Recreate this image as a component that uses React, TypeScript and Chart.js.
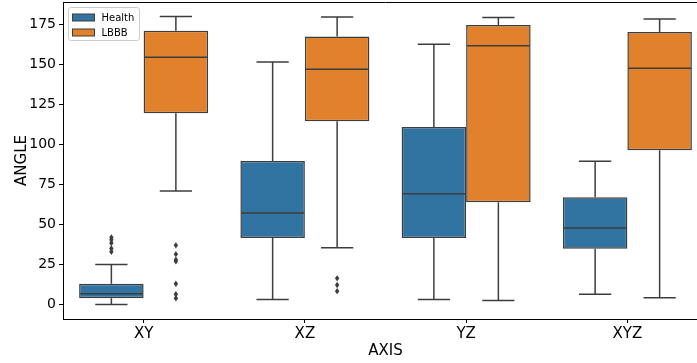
import React, { useEffect, useRef } from "react";
import { Chart, registerables } from "chart.js";

Chart.register(...registerables);

const categories = ["XY", "XZ", "YZ", "XYZ"];
const seriesNames = ["Health", "LBBB"];
const seriesColors = ["#3274a1", "#e1812c"];

const healthMin = [0, 3.2, 3.2, 6.4];
const healthQ1 = [4, 41.6, 41.6, 34.9];
const healthMedian = [6.75, 57.2, 69.25, 47.8];
const healthQ3 = [13, 89.7, 110.9, 67];
const healthMax = [25, 151.6, 162.6, 89.5];
const healthOutliers = [[42, 40.5, 38.5, 35, 33], [], [], []];

const lbbbMin = [71, 35.5, 2.6, 4.25];
const lbbbQ1 = [119.5, 114.5, 63.9, 96.4];
const lbbbMedian = [154.5, 147, 161.6, 147.6];
const lbbbQ3 = [171, 167.4, 174.7, 170.3];
const lbbbMax = [180, 179.7, 179.25, 178.4];
const lbbbOutliers = [[37, 31.5, 28, 27, 13, 6.5, 4], [16.4, 12.2, 8.4], [], []];

const yTickValues = [0, 25, 50, 75, 100, 125, 150, 175];
const yMin = -9;
const yMax = 189;

const LINE = "#3d3d3d";
const FONT = "'DejaVu Sans', sans-serif";

const stats = [
  { min: healthMin, q1: healthQ1, med: healthMedian, q3: healthQ3, max: healthMax, out: healthOutliers },
  { min: lbbbMin, q1: lbbbQ1, med: lbbbMedian, q3: lbbbQ3, max: lbbbMax, out: lbbbOutliers },
];

const boxPlugin = {
  id: "boxExtras",
  afterDatasetsDraw(chart: any) {
    const ctx = chart.ctx;
    const y = chart.scales.y;
    ctx.save();
    ctx.strokeStyle = LINE;
    ctx.fillStyle = LINE;
    ctx.lineWidth = 1.5;
    stats.forEach((s, di) => {
      const meta = chart.getDatasetMeta(di);
      meta.data.forEach((bar: any, i: number) => {
        const x = bar.x;
        const w = bar.width;
        const left = x - w / 2 + 0.75;
        const right = x + w / 2 - 0.75;
        const line = (x1: number, y1: number, x2: number, y2: number) => {
          ctx.beginPath();
          ctx.moveTo(x1, y1);
          ctx.lineTo(x2, y2);
          ctx.stroke();
        };
        const ym = y.getPixelForValue(s.med[i]);
        line(left, ym, right, ym);
        const yq1 = y.getPixelForValue(s.q1[i]);
        const yq3 = y.getPixelForValue(s.q3[i]);
        const ylo = y.getPixelForValue(s.min[i]);
        const yhi = y.getPixelForValue(s.max[i]);
        line(x, yq1, x, ylo);
        line(x, yq3, x, yhi);
        line(x - w / 4, ylo, x + w / 4, ylo);
        line(x - w / 4, yhi, x + w / 4, yhi);
        s.out[i].forEach((v: number) => {
          const py = y.getPixelForValue(v);
          ctx.beginPath();
          ctx.moveTo(x, py - 3.2);
          ctx.lineTo(x + 2.2, py);
          ctx.lineTo(x, py + 3.2);
          ctx.lineTo(x - 2.2, py);
          ctx.closePath();
          ctx.fill();
        });
      });
    });
    ctx.restore();
  },
  afterDraw(chart: any) {
    const ctx = chart.ctx;
    const a = chart.chartArea;
    ctx.save();
    ctx.strokeStyle = "#000";
    ctx.lineWidth = 1;
    ctx.beginPath();
    ctx.moveTo(a.left, a.top + 0.5);
    ctx.lineTo(a.right, a.top + 0.5);
    ctx.moveTo(a.right - 0.5, a.top);
    ctx.lineTo(a.right - 0.5, a.bottom);
    ctx.stroke();
    const lx = a.left + 5.5;
    const ly = a.top + 5.5;
    const lw = 71;
    const lh = 33;
    const r = 2.5;
    ctx.beginPath();
    ctx.moveTo(lx + r, ly);
    ctx.lineTo(lx + lw - r, ly);
    ctx.quadraticCurveTo(lx + lw, ly, lx + lw, ly + r);
    ctx.lineTo(lx + lw, ly + lh - r);
    ctx.quadraticCurveTo(lx + lw, ly + lh, lx + lw - r, ly + lh);
    ctx.lineTo(lx + r, ly + lh);
    ctx.quadraticCurveTo(lx, ly + lh, lx, ly + lh - r);
    ctx.lineTo(lx, ly + r);
    ctx.quadraticCurveTo(lx, ly, lx + r, ly);
    ctx.closePath();
    ctx.fillStyle = "rgba(255,255,255,0.8)";
    ctx.fill();
    ctx.strokeStyle = "#cccccc";
    ctx.stroke();
    seriesNames.forEach((name, k) => {
      const py = ly + 6.5 + k * 15;
      ctx.fillStyle = seriesColors[k];
      ctx.fillRect(lx + 4, py, 22, 7);
      ctx.strokeStyle = LINE;
      ctx.lineWidth = 1;
      ctx.strokeRect(lx + 4, py, 22, 7);
      ctx.fillStyle = "#000";
      ctx.font = `10px ${FONT}`;
      ctx.textBaseline = "middle";
      ctx.textAlign = "left";
      ctx.fillText(name, lx + 33, py + 4);
    });
    ctx.restore();
  },
};

export default function App() {
  const ref = useRef<HTMLCanvasElement | null>(null);
  useEffect(() => {
    if (!ref.current) return;
    const chart = new Chart(ref.current, {
      type: "bar",
      data: {
        labels: categories,
        datasets: stats.map((s, di) => ({
          label: seriesNames[di],
          data: s.q1.map((q, i) => [q, s.q3[i]]),
          backgroundColor: seriesColors[di],
          borderColor: LINE,
          borderWidth: 1.5,
          borderSkipped: false,
          categoryPercentage: 0.8,
          barPercentage: 1.0,
        })),
      },
      options: {
        animation: false,
        responsive: true,
        maintainAspectRatio: false,
        layout: { padding: { left: 0, right: 4, top: 2, bottom: 0 } },
        plugins: { legend: { display: false }, tooltip: { enabled: false } },
        scales: {
          x: {
            grid: { display: true, drawOnChartArea: false, offset: false, tickLength: 4, tickColor: "#000" },
            border: { display: true, color: "#000", width: 1 },
            ticks: { color: "#000", font: { family: FONT, size: 15 }, padding: 2, maxRotation: 0 },
            title: { display: true, text: "AXIS", color: "#000", font: { family: FONT, size: 15 }, padding: { top: 0, bottom: 3 } },
            afterFit: (s: any) => { s.height = 44; s.paddingLeft = 0; s.paddingRight = 0; },
          },
          y: {
            min: yMin,
            max: yMax,
            grid: { display: true, drawOnChartArea: false, tickLength: 4, tickColor: "#000" },
            border: { display: true, color: "#000", width: 1 },
            ticks: { color: "#000", font: { family: FONT, size: 14 }, padding: 3 },
            afterBuildTicks: (s: any) => { s.ticks = yTickValues.map((v) => ({ value: v })); },
            title: { display: true, text: "ANGLE", color: "#000", font: { family: FONT, size: 15 }, padding: { top: 13, bottom: 0 } },
            afterFit: (s: any) => { s.width = 63; s.paddingTop = 0; s.paddingBottom = 0; },
          },
        },
      },
      plugins: [boxPlugin],
    });
    return () => chart.destroy();
  }, []);
  return (
    <div style={{ position: "fixed", left: 0, top: 0, width: 697, height: 363, overflow: "hidden", background: "#fff" }}>
      <div style={{ position: "relative", width: 712, height: 363 }}>
        <canvas ref={ref} />
      </div>
    </div>
  );
}
